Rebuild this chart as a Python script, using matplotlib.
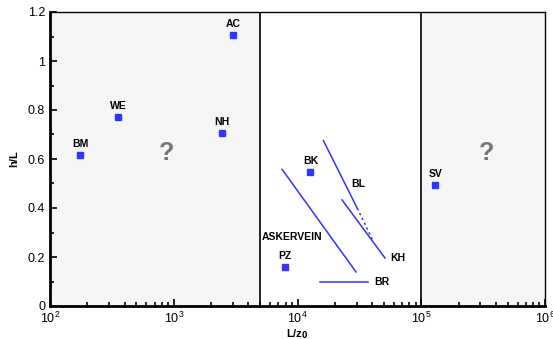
import matplotlib
matplotlib.use("Agg")
import matplotlib.pyplot as plt
from matplotlib.ticker import LogLocator, MultipleLocator, NullFormatter

plt.rcParams['font.family'] = ['Liberation Sans', 'DejaVu Sans']

# Point sites
site_names = ["BM", "WE", "NH", "AC", "BK", "PZ", "SV"]
site_x = [175, 357, 2470, 3030, 12700, 7980, 130000]
site_y = [0.615, 0.77, 0.705, 1.105, 0.546, 0.158, 0.493]

# Line sites
askervein_x = [7500, 29700]
askervein_y = [0.558, 0.139]
bl_x = [16200, 30400]
bl_y = [0.675, 0.399]
bl_dot_x = [30400, 40500]
bl_dot_y = [0.399, 0.269]
kh_x = [22900, 50900]
kh_y = [0.433, 0.196]
br_x = [15300, 37300]
br_y = [0.098, 0.098]

# Regions
left_region = [100, 5000]
right_region = [1e5, 1e6]

blue = "#3333ff"

fig = plt.figure(figsize=(5.53, 3.39), dpi=100)
ax = fig.add_axes([50/553, 33/339, 495/553, 294/339])

ax.set_xscale("log")
ax.set_xlim(1e2, 1e6)
ax.set_ylim(0, 1.2)

ax.axvspan(*left_region, facecolor="#f5f5f5", zorder=0)
ax.axvspan(*right_region, facecolor="#f5f5f5", zorder=0)
ax.axvline(left_region[1], color="black", lw=1.2, zorder=1)
ax.axvline(right_region[0], color="black", lw=1.2, zorder=1)

ax.plot(site_x, site_y, ls="none", marker="s", ms=4.5, color=blue, zorder=3)
for n, x, y in zip(site_names, site_x, site_y):
    ax.annotate(n, (x, y), xytext=(0, 4.5), textcoords="offset points",
                ha="center", va="bottom", fontsize=7.5, fontweight="bold")

ax.plot(askervein_x, askervein_y, color=blue, lw=1.1)
ax.plot(bl_x, bl_y, color=blue, lw=1.1)
ax.plot(bl_dot_x, bl_dot_y, color=blue, lw=1.1, ls=(0, (1.5, 2)))
ax.plot(kh_x, kh_y, color=blue, lw=1.1)
ax.plot(br_x, br_y, color=blue, lw=1.1)

ax.text(8980, 0.283, "ASKERVEIN", ha="center", va="center", fontsize=7.5, fontweight="bold")
ax.text(30800, 0.497, "BL", ha="center", va="center", fontsize=7.5, fontweight="bold")
ax.text(56000, 0.196, "KH", ha="left", va="center", fontsize=7.5, fontweight="bold")
ax.text(42000, 0.098, "BR", ha="left", va="center", fontsize=7.5, fontweight="bold")

ax.text(880, 0.625, "?", ha="center", va="center", fontsize=18, fontweight="bold", color="#777777")
ax.text(335000, 0.625, "?", ha="center", va="center", fontsize=18, fontweight="bold", color="#777777")

ax.xaxis.set_major_locator(LogLocator(base=10, numticks=10))
ax.xaxis.set_minor_locator(LogLocator(base=10, subs=range(2, 10), numticks=20))
ax.xaxis.set_minor_formatter(NullFormatter())
ax.yaxis.set_minor_locator(MultipleLocator(0.1))
ax.set_yticks([0, 0.2, 0.4, 0.6, 0.8, 1.0, 1.2])
ax.set_yticklabels(["0", "0.2", "0.4", "0.6", "0.8", "1", "1.2"])

ax.tick_params(which="both", direction="in", top=False, right=False, labelsize=9, width=1.2)
ax.tick_params(which="major", length=5)
ax.tick_params(which="minor", length=3)

for s in ["left", "bottom"]:
    ax.spines[s].set_linewidth(2)
for s in ["top", "right"]:
    ax.spines[s].set_linewidth(1)

ax.set_xlabel(r"L/z$_\mathbf{0}$", fontsize=8, fontweight="bold", labelpad=1)
ax.set_ylabel("h/L", fontsize=8, fontweight="bold", labelpad=6)

fig.savefig("out.png", dpi=100)
